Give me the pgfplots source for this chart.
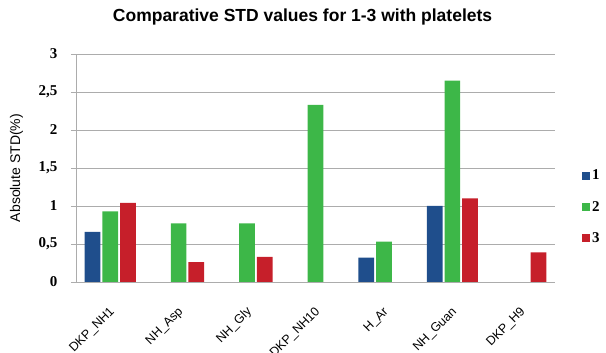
\documentclass[border=0pt]{standalone}
\usepackage{pgfplots}
\pgfplotsset{compat=1.18}
\usepackage{fontspec}
\setmainfont{Liberation Sans}
\newfontfamily\numfont{Liberation Serif}
\definecolor{sblue}{HTML}{1F4E8C}
\definecolor{sgreen}{HTML}{3DB748}
\definecolor{sred}{HTML}{C61F2A}
\definecolor{gridgray}{HTML}{ACACAC}
\begin{document}
\begin{tikzpicture}
\begin{axis}[
  name=ax,
  at={(0pt,0pt)}, anchor=south west,
  scale only axis,
  width=479pt, height=228pt,
  ybar, bar width=15.7pt,
  xmin=-0.5, xmax=6.5,
  ymin=0, ymax=3,
  enlarge y limits=false,
  axis lines=left,
  axis line style={-, gridgray, line width=0.8pt},
  xtick={0,1,2,3,4,5,6},
  xticklabels={DKP\_NH1,NH\_Asp,NH\_Gly,DKP\_NH10,H\_Ar,NH\_Guan,DKP\_H9},
  x tick style={draw=none},
  minor xtick={-0.5,0.5,1.5,2.5,3.5,4.5,5.5,6.5},
  minor x tick style={gridgray, line width=0.8pt},
  minor tick length=5pt,
  tick align=outside,
  xticklabel style={rotate=45, anchor=north east, font=\fontsize{12.5}{12.5}\selectfont, xshift=-11pt, yshift=-9pt},
  ytick={0,0.5,1,1.5,2,2.5,3},
  yticklabels={0,{0,5},1,{1,5},2,{2,5},3},
  y tick style={gridgray, line width=0.8pt},
  major tick length=5pt,
  yticklabel style={font=\numfont\bfseries\fontsize{15}{15}\selectfont, xshift=-10pt},
  ymajorgrids,
  grid style={gridgray, line width=0.8pt},
  ylabel={Absolute STD(\%)},
  ylabel style={at={(axis description cs:-0.124,0.5)}, anchor=center, font=\fontsize{14}{14}\selectfont},
  title={Comparative STD values for 1-3 with platelets},
  title style={at={(axis description cs:0.473,1)}, anchor=center, yshift=31pt, font=\bfseries\fontsize{17.5}{17.5}\selectfont},
  legend style={at={(axis description cs:1.0564,0.329)}, anchor=west, draw=none, fill=none, inner sep=0pt, row sep=16pt, font=\numfont\bfseries\fontsize{15}{15}\selectfont},
  legend cell align=left,
  legend image code/.code={\path[#1, draw=none] (0pt,-4pt) rectangle (8pt,4pt);},
]
\addplot[fill=sblue, draw=none] coordinates {(0,0.66) (4,0.32) (5,1.0)};
\addplot[fill=sgreen, draw=none] coordinates {(0,0.93) (1,0.77) (2,0.77) (3,2.33) (4,0.53) (5,2.65)};
\addplot[fill=sred, draw=none] coordinates {(0,1.04) (1,0.26) (2,0.33) (5,1.1) (6,0.39)};
\legend{1,2,3}
\end{axis}
\pgfresetboundingbox
\path (ax.south west) ++(-76pt,-71pt) rectangle ++(606pt,353pt);
\end{tikzpicture}
\end{document}
